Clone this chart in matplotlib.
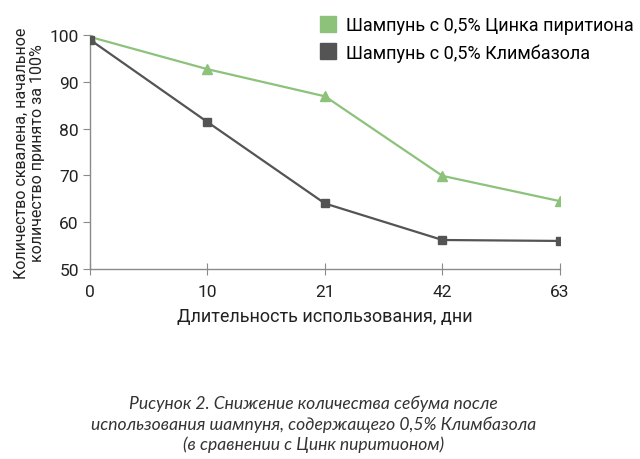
import matplotlib.pyplot as plt
from matplotlib.lines import Line2D

plt.rcParams['font.family'] = ['Roboto', 'DejaVu Sans']

# Data
days = ['0', '10', '21', '42', '63']
zinc = [99.6, 92.7, 86.9, 69.9, 64.5]
climbazole = [99.0, 81.4, 64.0, 56.2, 56.0]

green = '#8dc27b'
dark = '#545454'
axis_col = '#8a8a8a'

fig = plt.figure(figsize=(6.4, 4.6), dpi=100)
ax = fig.add_axes([0.1406, 0.413, 0.7344, 0.5087])

x = range(len(days))
ax.plot(x, zinc, color=green, lw=1.6, marker='^', ms=7, zorder=3)
ax.plot(x, climbazole, color=dark, lw=1.6, marker='s', ms=5.5, zorder=3)

ax.set_xlim(0, len(days) - 1)
ax.set_ylim(50, 100)
ax.set_xticks(list(x))
ax.set_xticklabels(days)
ax.set_yticks([50, 60, 70, 80, 90, 100])

for s in ['top', 'right']:
    ax.spines[s].set_visible(False)
for s in ['left', 'bottom']:
    ax.spines[s].set_color(axis_col)
    ax.spines[s].set_linewidth(1.0)

ax.tick_params(axis='y', direction='out', length=5, color=axis_col,
               labelsize=12.5, labelcolor='#222222', pad=3)
ax.tick_params(axis='x', direction='inout', length=9, color=axis_col,
               labelsize=12.5, labelcolor='#222222', pad=6)

ax.set_xlabel('Длительность использования, дни', fontsize=13,
              color='#222222', labelpad=6)
ax.set_ylabel('Количество сквалена, начальное\nколичество принято за 100%',
              fontsize=11.5, color='#222222', labelpad=3, linespacing=1.1)

handles = [Line2D([], [], ls='none', marker='s', ms=12, color=green),
           Line2D([], [], ls='none', marker='s', ms=12, color=dark)]
labels = ['Шампунь с 0,5% Цинка пиритиона', 'Шампунь с 0,5% Климбазола']
fig.legend(handles, labels, loc='upper left', bbox_to_anchor=(0.478, 0.99),
           frameon=False, fontsize=13.0, handlelength=1.0, handletextpad=0.5,
           labelspacing=0.5, borderaxespad=0.3)

caption = ('Рисунок 2. Снижение количества себума после\n'
           'использования шампуня, содержащего 0,5% Климбазола\n'
           '(в сравнении с Цинк пиритионом)')
fig.text(0.49, 0.077, caption, ha='center', va='center', fontsize=12.6,
         style='italic', color='#333333', linespacing=1.3,
         family=['Lato', 'DejaVu Sans'])

fig.savefig('out.png', dpi=100)
